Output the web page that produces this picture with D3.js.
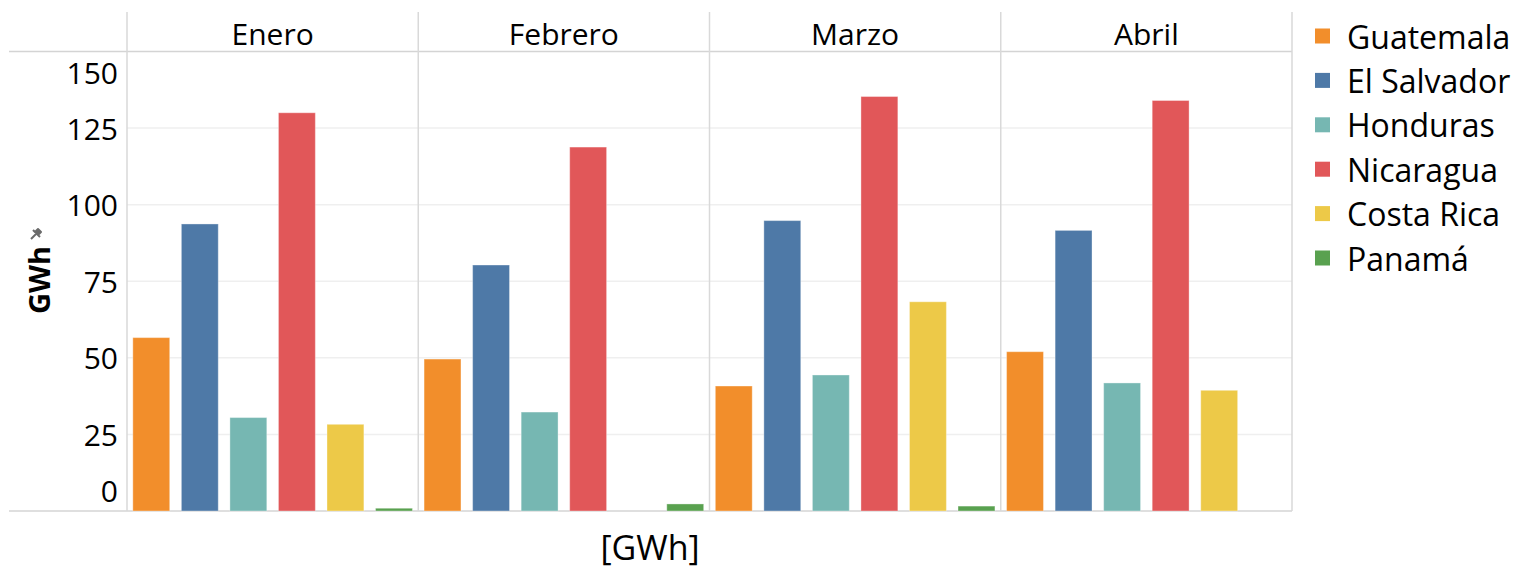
<!DOCTYPE html>
<html><head><meta charset="utf-8">
<script src="https://cdn.jsdelivr.net/npm/d3@7"></script>
<style>
html,body{margin:0;padding:0;background:#fff;}
svg{display:block;}
text{font-family:"Open Sans","Noto Sans",sans-serif;fill:#000;}
</style></head>
<body>
<svg id="chart" width="1522" height="571"></svg>
<script>
const months = ["Enero","Febrero","Marzo","Abril"];
const countries = ["Guatemala","El Salvador","Honduras","Nicaragua","Costa Rica","Panamá"];
const colors = ["#F28E2B","#4E79A7","#76B7B2","#E15759","#EDC948","#59A14F"];
const guatemala  = [56.6, 49.6, 40.8, 52.0];
const elSalvador = [93.7, 80.3, 94.8, 91.6];
const honduras   = [30.5, 32.3, 44.4, 41.8];
const nicaragua  = [130.0, 118.8, 135.3, 134.0];
const costaRica  = [28.3, 0, 68.3, 39.4];
const panama     = [0.9, 2.3, 1.6, 0];
const yTicks = [0, 25, 50, 75, 100, 125, 150];

(function () {
const series = [guatemala, elSalvador, honduras, nicaragua, costaRica, panama];
const data = [];
months.forEach((m, i) => countries.forEach((c, j) => data.push({month: m, country: c, value: series[j][i]})));

const svg = d3.select("#chart");
const pL = 127, pR = 1292, pT = 51.5, pB = 511, headTop = 12, frameLeft = 9;

const x0 = d3.scaleBand().domain(months).range([pL, pR]);
const x1 = d3.scaleBand().domain(countries).range([0, x0.bandwidth()]).paddingInner(0.24).paddingOuter(0.12);
const y = d3.scaleLinear().domain([0, 150]).range([pB, pT]);
const color = d3.scaleOrdinal().domain(countries).range(colors);

// gridlines
svg.append("g").selectAll("line").data(yTicks.filter(t => t > 0 && t < 150)).join("line")
  .attr("x1", pL).attr("x2", pR).attr("y1", d => y(d)).attr("y2", d => y(d))
  .attr("stroke", "#efefef").attr("stroke-width", 1.5);

// header line & baseline
svg.append("line").attr("x1", frameLeft).attr("x2", pR).attr("y1", pT).attr("y2", pT).attr("stroke", "#d4d4d4").attr("stroke-width", 1.5);
svg.append("line").attr("x1", frameLeft).attr("x2", pR).attr("y1", pB).attr("y2", pB).attr("stroke", "#d4d4d4").attr("stroke-width", 1.5);

// vertical dividers
const divs = [pL].concat(months.map(m => x0(m) + x0.bandwidth()));
svg.append("g").selectAll("line").data(divs).join("line")
  .attr("x1", d => d).attr("x2", d => d).attr("y1", headTop).attr("y2", pB)
  .attr("stroke", "#d9d9d9").attr("stroke-width", 1.5);

// header labels
svg.append("g").selectAll("text").data(months).join("text")
  .attr("x", d => x0(d) + x0.bandwidth() / 2).attr("y", 33)
  .attr("text-anchor", "middle").attr("dominant-baseline", "central")
  .style("font-size", "30px").text(d => d);

// bars
svg.append("g").selectAll("rect").data(data.filter(d => d.value > 0)).join("rect")
  .attr("x", d => x0(d.month) + x1(d.country))
  .attr("width", x1.bandwidth())
  .attr("y", d => y(d.value))
  .attr("height", d => y(0) - y(d.value))
  .attr("fill", d => color(d.country))
  .attr("stroke", "rgba(255,255,255,0.35)").attr("stroke-width", 1);

// y axis
const yAxis = d3.axisLeft(y).tickValues(yTicks).tickSize(0).tickPadding(9);
const ga = svg.append("g").attr("transform", `translate(${pL},0)`).call(yAxis);
ga.select(".domain").remove();
ga.selectAll(".tick").attr("transform", d => `translate(0,${Math.max(y(150) + 21, Math.min(y(0) - 21, y(d)))})`);
ga.selectAll("text").attr("dy", null).attr("dominant-baseline", "central")
  .style("font-size", "30px").style("font-family", '"Open Sans","Noto Sans",sans-serif').attr("fill", "#000");

// y title
svg.append("text").attr("transform", "translate(38,280) rotate(-90)")
  .attr("text-anchor", "middle").attr("dominant-baseline", "central")
  .style("font-size", "29px").style("font-weight", "bold").text("GWh");
// pin icon
svg.append("path").attr("d", "M0,0 L5,-5 M2,-9 L9,-2 M4,-7 L7,-4 L10,-7 L7,-10 L4,-7")
  .attr("transform", "translate(31,239)").attr("stroke", "#6b6b6b").attr("stroke-width", 2).attr("fill", "#6b6b6b")
  .attr("stroke-linejoin", "round");

// x title
svg.append("text").attr("x", 650).attr("y", 547)
  .attr("text-anchor", "middle").attr("dominant-baseline", "central")
  .style("font-size", "34px").text("[GWh]");

// legend
const lg = svg.append("g").attr("transform", "translate(1315,36)");
const items = lg.selectAll("g").data(countries).join("g").attr("transform", (d, i) => `translate(0,${i * 44.4})`);
items.append("rect").attr("x", 0).attr("y", -7.5).attr("width", 15).attr("height", 15).attr("fill", d => color(d));
items.append("text").attr("x", 32).attr("y", 0).attr("dominant-baseline", "central")
  .style("font-size", "32px").text(d => d);
})();
</script>
</body></html>
